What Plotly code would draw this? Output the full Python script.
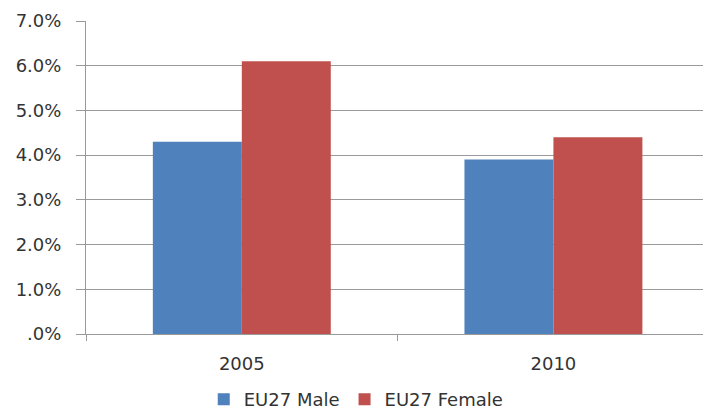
import plotly.graph_objects as go

categories = ["2005", "2010"]
male = [0.043, 0.039]
female = [0.061, 0.044]
series_names = ["EU27 Male", "EU27 Female"]
y_tick_values = [0, 0.01, 0.02, 0.03, 0.04, 0.05, 0.06, 0.07]
y_tick_labels = [".0%", "1.0%", "2.0%", "3.0%", "4.0%", "5.0%", "6.0%", "7.0%"]

BLUE = "#4F81BD"
RED = "#C0504D"
GRID = "#9A9A9A"
FONT = "DejaVu Sans"
TEXT = "#333333"

fig = go.Figure()
fig.add_trace(go.Bar(x=categories, y=male, name=series_names[0],
                     marker=dict(color=BLUE, line=dict(width=0))))
fig.add_trace(go.Bar(x=categories, y=female, name=series_names[1],
                     marker=dict(color=RED, line=dict(width=0))))

fig.update_layout(
    width=703, height=412,
    margin=dict(l=86, r=0, t=21, b=78),
    paper_bgcolor="white", plot_bgcolor="white",
    barmode="group", bargap=0.429, bargroupgap=0,
    font=dict(family=FONT, size=18, color=TEXT),
    showlegend=True,
    legend=dict(orientation="h", x=0.438, xanchor="center",
                yref="container", y=0.03, yanchor="middle",
                font=dict(size=18, color=TEXT),
                itemwidth=30, tracegroupgap=0, bgcolor="rgba(0,0,0,0)"),
    xaxis=dict(type="category", range=[-0.5, 1.48],
               showline=True, linecolor=GRID, linewidth=1,
               ticks="outside", tickson="boundaries", ticklen=6,
               tickcolor=GRID, showgrid=False, ticklabelstandoff=13,
               fixedrange=True),
    yaxis=dict(range=[0, 0.07], tickvals=y_tick_values, ticktext=y_tick_labels,
               showline=True, linecolor=GRID, linewidth=1,
               ticks="outside", ticklen=9, tickcolor=GRID,
               showgrid=True, gridcolor=GRID, gridwidth=1,
               zeroline=False, ticklabelstandoff=11, fixedrange=True),
)

fig.write_html("out.html")
